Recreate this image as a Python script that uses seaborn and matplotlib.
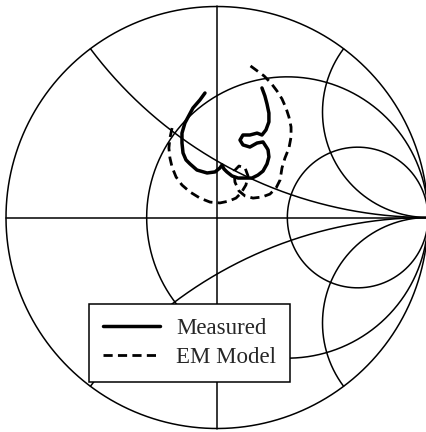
import numpy as np
import pandas as pd
import matplotlib
matplotlib.use("Agg")
import matplotlib.pyplot as plt
import seaborn as sns

meas_re = [-0.057, -0.081, -0.114, -0.137, -0.152, -0.166, -0.166, -0.161, -0.147, -0.128,
           -0.095, -0.047, -0.009, 0.014, 0.024, 0.033, 0.047, 0.071, 0.100, 0.133,
           0.166, 0.194, 0.218, 0.237, 0.246, 0.242, 0.237, 0.218, 0.190, 0.156,
           0.123, 0.109, 0.123, 0.156, 0.190, 0.213, 0.232, 0.246, 0.246, 0.237,
           0.227, 0.213]
meas_im = [0.590, 0.557, 0.519, 0.476, 0.448, 0.400, 0.353, 0.306, 0.273, 0.254,
           0.225, 0.211, 0.216, 0.235, 0.249, 0.230, 0.216, 0.197, 0.187, 0.187,
           0.187, 0.201, 0.220, 0.254, 0.287, 0.320, 0.329, 0.358, 0.353, 0.334,
           0.344, 0.367, 0.391, 0.391, 0.400, 0.391, 0.415, 0.453, 0.495, 0.538,
           0.576, 0.614]

em_re = [-0.213, -0.223, -0.228, -0.223, -0.213, -0.194, -0.166, -0.128, -0.081, -0.033,
         0.014, 0.057, 0.090, 0.114, 0.137, 0.147, 0.133, 0.104, 0.081, 0.085,
         0.104, 0.133, 0.171, 0.213, 0.251, 0.280, 0.299, 0.308, 0.322, 0.341,
         0.351, 0.351, 0.341, 0.327, 0.308, 0.284, 0.256, 0.223, 0.185, 0.147]
em_im = [0.424, 0.377, 0.329, 0.282, 0.239, 0.192, 0.154, 0.121, 0.092, 0.073,
         0.069, 0.078, 0.092, 0.116, 0.154, 0.197, 0.235, 0.244, 0.220, 0.168,
         0.126, 0.102, 0.092, 0.097, 0.111, 0.140, 0.178, 0.235, 0.282, 0.329,
         0.382, 0.429, 0.476, 0.519, 0.562, 0.600, 0.637, 0.671, 0.699, 0.727]

r_circles = [0.5, 2.0]
x_arcs = [0.5, -0.5, 2.0, -2.0]

sns.set_style("white")
plt.rcParams['font.family'] = ['Liberation Serif', 'DejaVu Serif']

fig = plt.figure(figsize=(4.27, 4.32), dpi=100)
ax = fig.add_axes([0, 0, 1, 1])
cx, cy, R = 217.0, 217.5, 211.0
ax.set_xlim((0 - cx) / R, (427 - cx) / R)
ax.set_ylim((cy - 432) / R, (cy - 0) / R)
ax.axis('off')

gk = dict(color='black', lw=1.1, zorder=1)

# outer circle and axes
t = np.linspace(0, 2 * np.pi, 600)
ax.plot(np.cos(t), np.sin(t), **gk)
ax.plot([-1, 1], [0, 0], **gk)
ax.plot([0, 0], [-1, 1], **gk)

# constant resistance circles
for r in r_circles:
    c, rad = r / (1 + r), 1 / (1 + r)
    ax.plot(c + rad * np.cos(t), rad * np.sin(t), **gk)

# constant reactance arcs
rr = np.tan(np.linspace(0, np.pi / 2 - 1e-4, 800))
for xv in x_arcs:
    z = rr + 1j * xv
    g = (z - 1) / (z + 1)
    ax.plot(np.r_[g.real, 1.0], np.r_[g.imag, 0.0], **gk)

sns.lineplot(x=meas_re, y=meas_im, sort=False, estimator=None, color='black',
             lw=2.5, label='Measured', ax=ax, zorder=3)
sns.lineplot(x=em_re, y=em_im, sort=False, estimator=None, color='black', lw=2.0,
             linestyle=(0, (3.3, 1.9)), label='EM Model', ax=ax, zorder=3)

leg = ax.legend(loc='upper left', bbox_to_anchor=(89 / 427, 1 - 304 / 432),
                bbox_transform=fig.transFigure, borderaxespad=0,
                fontsize=16.5, fancybox=False, framealpha=1, edgecolor='black',
                handlelength=2.5, handletextpad=0.7, borderpad=0.6,
                labelspacing=0.36)
leg.get_frame().set_linewidth(1.1)
leg.set_zorder(5)

fig.savefig("out.png", dpi=100)
